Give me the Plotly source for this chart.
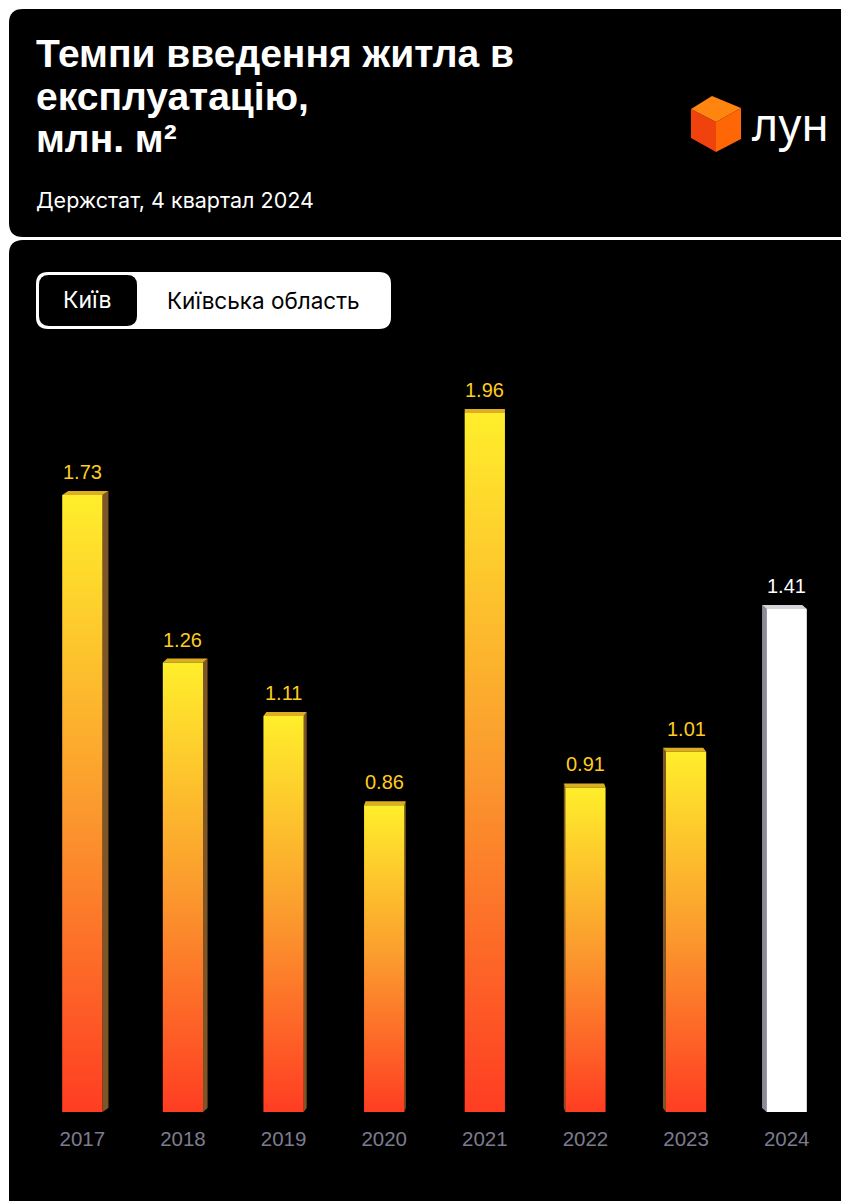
import plotly.graph_objects as go

# ---------------- data ----------------
years = ["2017", "2018", "2019", "2020", "2021", "2022", "2023", "2024"]
values = [1.73, 1.26, 1.11, 0.86, 1.96, 0.91, 1.01, 1.41]
highlight = [False, False, False, False, False, False, False, True]
title_lines = ["Темпи введення житла в", "експлуатацію,", "млн. м²"]
subtitle = "Держстат, 4 квартал 2024"
tabs = ["Київ", "Київська область"]
logo_text = "лун"

# ---------------- geometry ----------------
OFF = 8  # page body margin of the html page
W, H = 849 - OFF, 1201 - OFF
ML, MR, MT, MB = 32 - OFF, 12, 363 - OFF, 89
YMAX = 2.1
PW = W - ML - MR
PH = H - MT - MB
PX_X = PW / len(years)
PX_Y = PH / YMAX
BAR_W = 0.4
DEPTH_Y = 4  # px
FONT = "Liberation Sans, Arial, Helvetica, sans-serif"
FONT2 = "Inter, Liberation Sans, sans-serif"


def xp(px):
    return (px - OFF - ML) / PW


def yp(py):
    return (H - MB - (py - OFF)) / PH


def pt(x, y):
    return f"{xp(x):.5f},{yp(y):.5f}"


def rounded_rect(x0, y0, x1, y1, r):
    return (f"M {pt(x0 + r, y0)} L {pt(x1 - r, y0)} Q {pt(x1, y0)} {pt(x1, y0 + r)} "
            f"L {pt(x1, y1 - r)} Q {pt(x1, y1)} {pt(x1 - r, y1)} "
            f"L {pt(x0 + r, y1)} Q {pt(x0, y1)} {pt(x0, y1 - r)} "
            f"L {pt(x0, y0 + r)} Q {pt(x0, y0)} {pt(x0 + r, y0)} Z")


def poly(points):
    return "M " + " L ".join(pt(x, y) for x, y in points) + " Z"


shapes = [
    dict(type="path", xref="paper", yref="paper", path=rounded_rect(9, 9, 880, 237, 14),
         fillcolor="#000000", line=dict(width=0), layer="below"),
    dict(type="path", xref="paper", yref="paper", path=rounded_rect(9, 240, 880, 1240, 14),
         fillcolor="#000000", line=dict(width=0), layer="below"),
    # toggle
    dict(type="path", xref="paper", yref="paper", path=rounded_rect(36, 272, 391, 329, 12),
         fillcolor="#ffffff", line=dict(width=0), layer="below"),
    dict(type="path", xref="paper", yref="paper", path=rounded_rect(39, 275, 137, 326, 10),
         fillcolor="#000000", line=dict(width=0), layer="below"),
]

# logo cube
T, UL, LL, B, LR, UR, C = (712, 96), (691, 109), (691, 138), (716, 152), (741, 139), (741, 108), (716, 122)
shapes += [
    dict(type="path", xref="paper", yref="paper", path=poly([UL, C, B, LL]),
         fillcolor="#f0420c", line=dict(width=0)),
    dict(type="path", xref="paper", yref="paper", path=poly([C, UR, LR, B]),
         fillcolor="#ff6606", line=dict(width=0)),
    dict(type="path", xref="paper", yref="paper", path=poly([T, UR, C, UL]),
         fillcolor="#ff8410", line=dict(width=0)),
]

fig = go.Figure()

grad = [[0, "#ff3d22"], [0.5, "#fb9b2e"], [1, "#ffee2b"]]
for i, (v, hl) in enumerate(zip(values, highlight)):
    x0, x1 = i - BAR_W / 2, i + BAR_W / 2
    dxu = (4 - i) * 1.5 / PX_X
    dyu = DEPTH_Y / PX_Y
    side_c = "#8b8b97" if hl else "#7d5526"
    top_c = "#d3d3d8" if hl else "#ddad22"
    xs = x1 if dxu > 0 else x0
    if abs(dxu) > 1e-9:
        fig.add_trace(go.Scatter(x=[xs, xs, xs + dxu, xs + dxu, xs], y=[0, v, v + dyu, dyu, 0],
                                 fill="toself", fillcolor=side_c, mode="lines",
                                 line=dict(width=0, color=side_c), hoverinfo="skip", showlegend=False))
    fig.add_trace(go.Scatter(x=[x0, x1, x1 + dxu, x0 + dxu, x0], y=[v, v, v + dyu, v + dyu, v],
                             fill="toself", fillcolor=top_c, mode="lines",
                             line=dict(width=0, color=top_c), hoverinfo="skip", showlegend=False))
    front = dict(x=[x0, x1, x1, x0, x0], y=[0, 0, v, v, 0], fill="toself", mode="lines",
                 line=dict(width=0), hoverinfo="skip", showlegend=False)
    if hl:
        front["fillcolor"] = "#ffffff"
    else:
        front["fillgradient"] = dict(type="vertical", colorscale=grad)
    fig.add_trace(go.Scatter(**front))

annotations = []
for i, (v, hl) in enumerate(zip(values, highlight)):
    annotations.append(dict(x=i, y=v, xref="x", yref="y", text=f"{v:.2f}", showarrow=False,
                            yanchor="bottom", yshift=10,
                            font=dict(family=FONT, size=20, color="#ffffff" if hl else "#ffcc1f")))

for txt, cy in zip(title_lines, [54, 97, 139]):
    annotations.append(dict(x=xp(34), y=yp(cy), xref="paper", yref="paper", text=f"<b>{txt}</b>",
                            xanchor="left", yanchor="middle", showarrow=False,
                            font=dict(family=FONT, size=39, color="#ffffff")))
annotations.append(dict(x=xp(34), y=yp(200), xref="paper", yref="paper", text=subtitle,
                        xanchor="left", yanchor="middle", showarrow=False,
                        font=dict(family=FONT2, size=21.5, color="#ffffff")))
annotations.append(dict(x=xp(87), y=yp(300), xref="paper", yref="paper", text=tabs[0],
                        xanchor="center", yanchor="middle", showarrow=False,
                        font=dict(family=FONT2, size=23, color="#ffffff")))
annotations.append(dict(x=xp(263), y=yp(300), xref="paper", yref="paper", text=tabs[1],
                        xanchor="center", yanchor="middle", showarrow=False,
                        font=dict(family=FONT2, size=22.5, color="#000000")))
annotations.append(dict(x=xp(750), y=yp(124), xref="paper", yref="paper", text=logo_text,
                        xanchor="left", yanchor="middle", showarrow=False,
                        font=dict(family="Noto Sans, sans-serif", size=45, color="#ffffff")))

fig.update_layout(
    width=W, height=H,
    margin=dict(l=ML, r=MR, t=MT, b=MB),
    paper_bgcolor="#ffffff",
    plot_bgcolor="rgba(0,0,0,0)",
    shapes=shapes,
    annotations=annotations,
    showlegend=False,
    xaxis=dict(range=[-0.5, len(years) - 0.5], tickvals=list(range(len(years))), ticktext=years,
               showgrid=False, zeroline=False, showline=False, ticks="", fixedrange=True,
               ticklabelstandoff=12,
               tickfont=dict(family=FONT, size=20.5, color="#7c7c8e")),
    yaxis=dict(range=[0, YMAX], visible=False, fixedrange=True),
)

fig.write_html("out.html", config={"displayModeBar": False})
